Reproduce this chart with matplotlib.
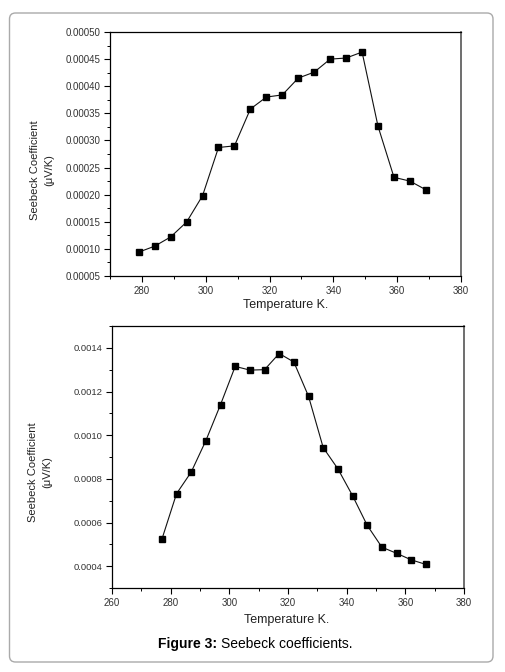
import matplotlib
matplotlib.use("Agg")
import matplotlib.pyplot as plt
from matplotlib.ticker import MultipleLocator, FormatStrFormatter
from matplotlib.patches import FancyBboxPatch
from matplotlib.transforms import IdentityTransform

plt.rcParams['font.family'] = ['Liberation Sans', 'DejaVu Sans']

# Top panel data
temp_a = [279, 284, 289, 294, 299, 304, 309, 314, 319, 324, 329, 334, 339, 344, 349, 354, 359, 364, 369]
seebeck_a = [0.000094, 0.000105, 0.000122, 0.0001495, 0.000198, 0.000287, 0.000290, 0.000358, 0.000380,
             0.000384, 0.000415, 0.000426, 0.000450, 0.000452, 0.000463, 0.000326, 0.000232, 0.000225, 0.000209]

# Bottom panel data
temp_b = [277, 282, 287, 292, 297, 302, 307, 312, 317, 322, 327, 332, 337, 342, 347, 352, 357, 362, 367]
seebeck_b = [0.000523, 0.000732, 0.000831, 0.000975, 0.00114, 0.001315, 0.001298, 0.001300, 0.001374,
             0.001335, 0.001178, 0.000943, 0.000846, 0.000723, 0.000587, 0.000487, 0.000459, 0.000429, 0.000408]

W, H = 506, 672
fig = plt.figure(figsize=(W / 100, H / 100), dpi=100)

def px_axes(l, t, r, b):
    return fig.add_axes([l / W, 1 - b / H, (r - l) / W, (b - t) / H])

tick_col = '#333333'

def style(ax, fmt, ysize):
    for s in ax.spines.values():
        s.set_linewidth(0.9)
        s.set_color('black')
    ax.spines['right'].set_color('#555555')
    ax.spines['right'].set_linewidth(1.2)
    ax.tick_params(which='major', direction='out', length=4, width=0.8, labelsize=7,
                   labelcolor=tick_col, top=False, right=False, pad=3)
    ax.tick_params(axis='y', which='major', labelsize=ysize)
    ax.tick_params(which='minor', direction='out', length=2.5, width=0.7, top=False, right=False)
    ax.yaxis.set_major_formatter(FormatStrFormatter(fmt))

# Top axes
ax1 = px_axes(110, 32, 461, 276)
ax1.plot(temp_a, seebeck_a, color='#111111', lw=0.8, marker='s', ms=4, mfc='black', mec='black')
ax1.set_xlim(270, 380)
ax1.set_ylim(0.00005, 0.0005)
ax1.xaxis.set_major_locator(MultipleLocator(20))
ax1.xaxis.set_minor_locator(MultipleLocator(10))
ax1.yaxis.set_major_locator(MultipleLocator(0.00005))
ax1.yaxis.set_minor_locator(MultipleLocator(0.000025))
style(ax1, '%.5f', 7)

# Bottom axes
ax2 = px_axes(112, 326, 464, 588)
ax2.plot(temp_b, seebeck_b, color='#111111', lw=0.8, marker='s', ms=4.5, mfc='black', mec='black')
ax2.set_xlim(260, 380)
ax2.set_ylim(0.0003, 0.0015)
ax2.xaxis.set_major_locator(MultipleLocator(20))
ax2.xaxis.set_minor_locator(MultipleLocator(10))
ax2.yaxis.set_major_locator(MultipleLocator(0.0002))
ax2.yaxis.set_minor_locator(MultipleLocator(0.0001))
style(ax2, '%.4f', 6.8)

lab_col = '#222222'
fig.text(42 / W, 1 - 170 / H, 'Seebeck Coefficient\n(μV/K)', rotation=90, ha='center', va='center',
         fontsize=8, color=lab_col, linespacing=1.6, multialignment='center')
fig.text(40 / W, 1 - 472 / H, 'Seebeck Coefficient\n(μV/K)', rotation=90, ha='center', va='center',
         fontsize=8, color=lab_col, linespacing=1.6, multialignment='center')
fig.text(286 / W, 1 - 305 / H, 'Temperature K.', ha='center', va='center', fontsize=9, color=lab_col)
fig.text(287 / W, 1 - 620 / H, 'Temperature K.', ha='center', va='center', fontsize=9, color=lab_col)

# Caption: bold lead-in followed by regular text
cap_y = 1 - 644 / H
t_bold = fig.text(158 / W, cap_y, 'Figure 3:', ha='left', va='center', fontsize=10,
                  fontweight='bold', color='black')
fig.canvas.draw()
bb = t_bold.get_window_extent(renderer=fig.canvas.get_renderer())
fig.text((bb.x1 + 4) / W, cap_y, 'Seebeck coefficients.', ha='left', va='center', fontsize=10, color='black')

# Frame
frame = FancyBboxPatch((9.5, 10), 483.5, 649, boxstyle='round,pad=0,rounding_size=6',
                       transform=IdentityTransform(), fill=False, edgecolor='#aaaaaa', lw=1.0)
fig.patches.append(frame)

fig.savefig('out.png', dpi=100)
